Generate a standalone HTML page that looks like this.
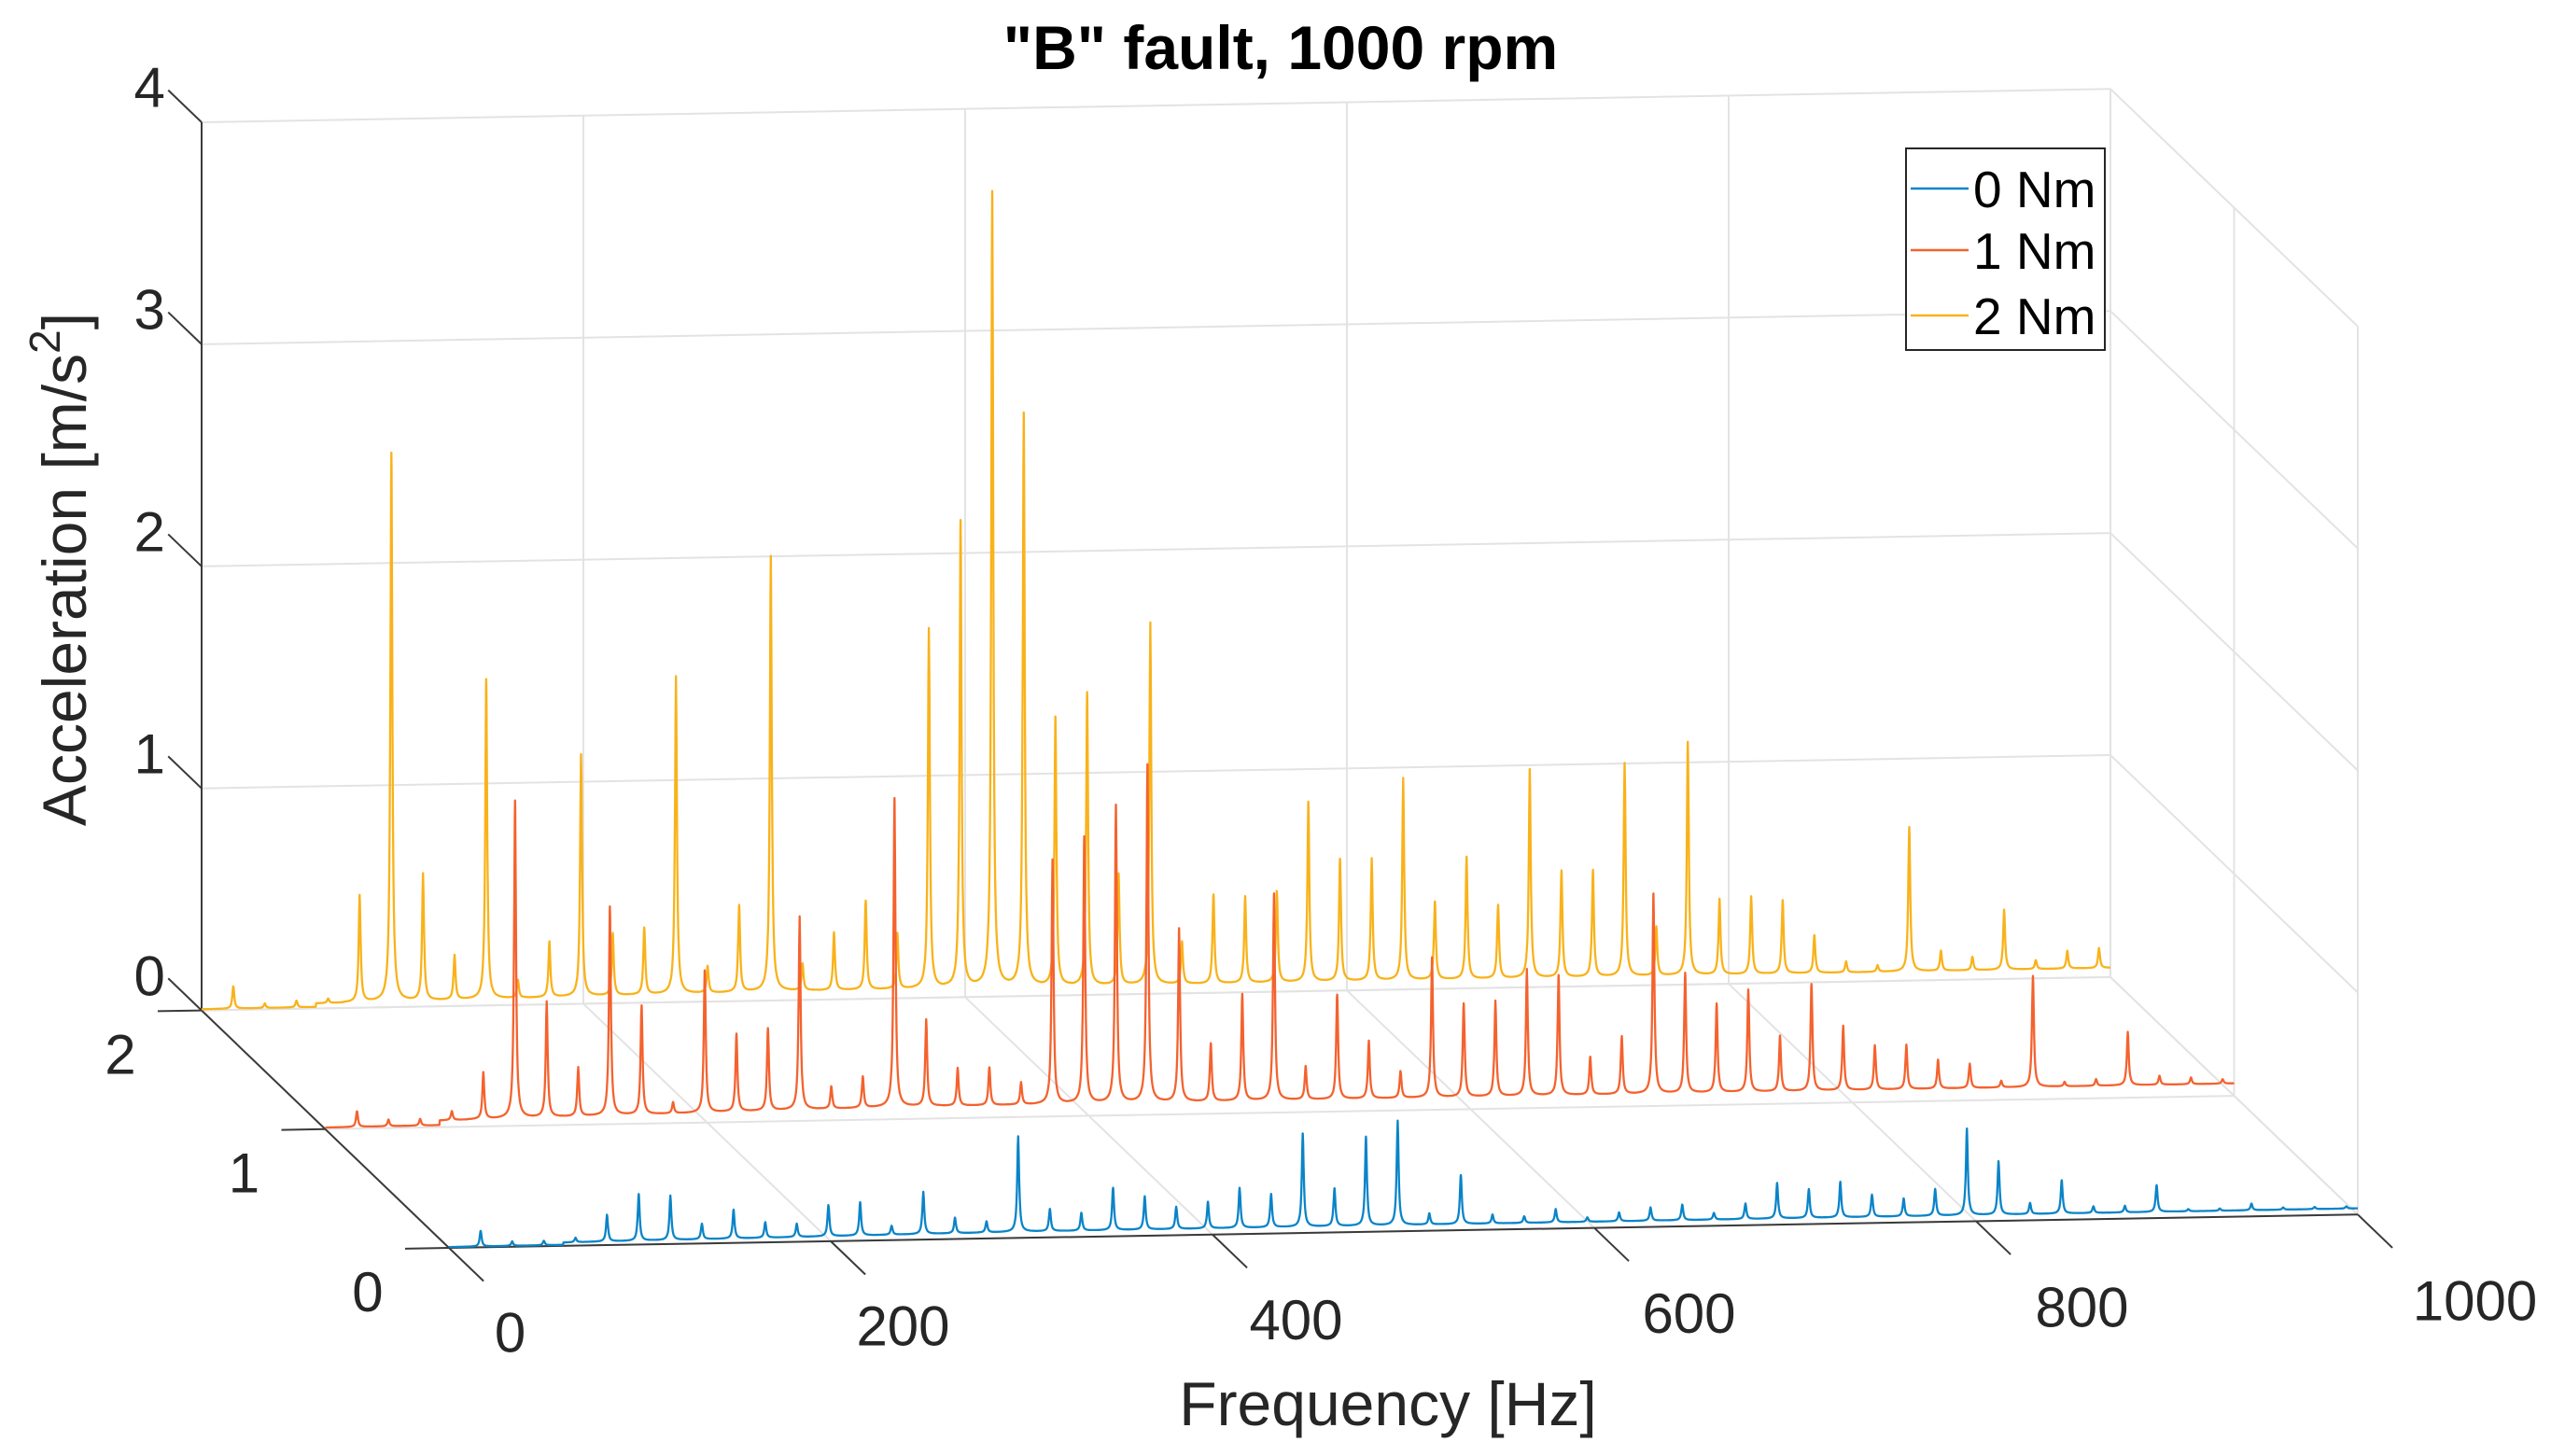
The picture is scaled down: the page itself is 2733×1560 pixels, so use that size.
<!DOCTYPE html>
<html><head><meta charset="utf-8"><style>
html,body{margin:0;padding:0;background:#fff;}
svg{display:block;font-family:"Liberation Sans",Arial,sans-serif;}
</style></head><body>
<svg id="chart" width="2733" height="1560" viewBox="0 0 2733 1560" xmlns="http://www.w3.org/2000/svg">
<rect x="0" y="0" width="2733" height="1560" fill="#fff"/>
<g id="grid"></g>
<g id="axes"></g>
<g id="series"></g>
<g id="labels"></g>
<text x="1372" y="74" text-anchor="middle" font-size="66" font-weight="bold" fill="#000">"B" fault, 1000 rpm</text>
<text x="1487" y="1527" text-anchor="middle" font-size="66" fill="#262626">Frequency [Hz]</text>
<text transform="translate(92,610) rotate(-90)" text-anchor="middle" font-size="66" fill="#262626">Acceleration [m/s<tspan font-size="46" dy="-28">2</tspan><tspan dy="28">]</tspan></text>
<g>
<rect x="2042" y="159" width="213" height="216" fill="#fff" stroke="#262626" stroke-width="2"/>
<g><line x1="2047" y1="202" x2="2109" y2="202" stroke="#0A84C8" stroke-width="2.5"/><text x="2114" y="222" font-size="55" fill="#000">0 Nm</text></g>
<g><line x1="2047" y1="268" x2="2109" y2="268" stroke="#F4622E" stroke-width="2.5"/><text x="2114" y="288" font-size="55" fill="#000">1 Nm</text></g>
<g><line x1="2047" y1="338" x2="2109" y2="338" stroke="#F9B21A" stroke-width="2.5"/><text x="2114" y="358" font-size="55" fill="#000">2 Nm</text></g>
</g>
</svg>
<script>
const harmonicFreqs = [16.6,33.1,49.7,66.3,82.8,99.4,116.0,132.5,149.1,165.7,182.2,198.8,215.4,231.9,248.5,265.1,281.6,298.2,314.8,331.3,347.9,364.5,381.0,397.6,414.2,430.7,447.3,463.9,480.4,497.0,513.6,530.1,546.7,563.3,579.8,596.4,613.0,629.5,646.1,662.7,679.2,695.8,712.4,728.9,745.5,762.1,778.6,795.2,811.8,828.3,844.9,861.5,878.0,894.6,911.2,927.7,944.3,960.9,977.4,994.0];
const amp0Nm = [0.07,0.02,0.02,0.02,0.12,0.21,0.20,0.07,0.13,0.07,0.06,0.14,0.15,0.04,0.19,0.07,0.05,0.43,0.10,0.08,0.19,0.15,0.10,0.12,0.18,0.15,0.42,0.17,0.40,0.47,0.05,0.22,0.04,0.03,0.06,0.02,0.04,0.06,0.07,0.03,0.07,0.16,0.13,0.16,0.10,0.08,0.12,0.39,0.24,0.05,0.15,0.03,0.03,0.12,0.01,0.01,0.03,0.01,0.01,0.01];
const amp1Nm = [0.07,0.03,0.03,0.04,0.21,1.43,0.52,0.22,0.94,0.49,0.05,0.64,0.35,0.37,0.87,0.10,0.14,1.39,0.39,0.17,0.17,0.10,1.10,1.20,1.34,1.52,0.78,0.26,0.48,0.93,0.15,0.47,0.26,0.12,0.63,0.42,0.43,0.57,0.54,0.17,0.26,0.90,0.54,0.40,0.46,0.25,0.48,0.29,0.20,0.20,0.13,0.11,0.03,0.50,0.02,0.03,0.24,0.04,0.03,0.02];
const amp2Nm = [0.10,0.02,0.03,0.02,0.48,2.47,0.57,0.20,1.44,0.08,0.25,1.09,0.28,0.30,1.43,0.12,0.39,1.96,0.12,0.26,0.40,0.25,1.62,2.10,3.58,2.58,1.21,1.32,0.50,1.63,0.19,0.40,0.39,0.41,0.81,0.55,0.55,0.91,0.35,0.55,0.33,0.94,0.48,0.48,0.96,0.22,1.05,0.34,0.35,0.33,0.17,0.05,0.03,0.65,0.09,0.06,0.27,0.04,0.08,0.09];
const noiseFloor = [0.02, 0.04, 0.03];
const seriesNames = ["0 Nm","1 Nm","2 Nm"];
const rowValues = [0, 1, 2];
const fTicks = [0,200,400,600,800,1000];
const zTicks = [0,1,2,3,4];
const rowTicks = [0,1,2];

const NS = "http://www.w3.org/2000/svg";
const O = [481,1337], FV = [2.045,-0.0357], RV = [-132.5,-127.2], ZV = -237.9;
function P(f,r,z){return [O[0]+f*FV[0]+r*RV[0], O[1]+f*FV[1]+r*RV[1]+z*ZV];}
function mk(parent,tag,attrs){const e=document.createElementNS(NS,tag);for(const k in attrs)e.setAttribute(k,attrs[k]);parent.appendChild(e);return e;}
function ln(parent,a,b,color,w,name){
  const e=mk(parent,"line",{x1:a[0],y1:a[1],x2:b[0],y2:b[1],stroke:color,"stroke-width":w});
  
  
  return e;
}
const grid=document.getElementById("grid"), axes=document.getElementById("axes"), labels=document.getElementById("labels"), series=document.getElementById("series");
const GC="#e3e3e3", AC="#3a3a3a";
fTicks.forEach(f=>ln(grid,P(f,2,0),P(f,2,4),GC,2,"back-grid-f"));
zTicks.forEach(z=>ln(grid,P(0,2,z),P(1000,2,z),GC,2,"back-grid-z"));
zTicks.forEach(z=>ln(grid,P(1000,2,z),P(1000,0,z),GC,2,"side-grid-z"));
rowTicks.forEach(r=>ln(grid,P(1000,r,0),P(1000,r,4),GC,2,"side-grid-row"));
fTicks.forEach(f=>ln(grid,P(f,2,0),P(f,0,0),GC,2,"floor-grid-f"));
rowTicks.forEach(r=>ln(grid,P(0,r,0),P(1000,r,0),GC,2,"floor-grid-row"));
ln(axes,P(0,2,0),P(0,2,4),AC,2,"z-axis-line");
ln(axes,P(0,2,0),P(0,0,0),AC,2,"row-axis-line");
ln(axes,P(0,0,0),P(1000,0,0),AC,2,"x-axis-line");
zTicks.forEach(z=>ln(axes,P(0,2,z),P(0,2.27,z),AC,2,"z-tick"));
rowTicks.forEach(r=>ln(axes,P(0,r,0),P(-23,r,0),AC,2,"row-tick"));
fTicks.forEach(f=>ln(axes,P(f,0,0),P(f,-0.28,0),AC,2,"x-tick"));
function txt(x,y,s,name,anchor){
  const t=mk(labels,"text",{x:x,y:y,"font-size":60,fill:"#262626","text-anchor":anchor||"middle"});
  t.textContent=s;
  
  
}
fTicks.forEach(f=>{const p=P(f,-0.6,0);txt(p[0]-14+0.06*f,p[1]+13+0.002*f+22,String(f),"x-tick-label");});
zTicks.forEach(z=>{const p=P(0,2.27,z);txt(p[0]-20,p[1]-4+22,String(z),"z-tick-label");});
rowTicks.forEach(r=>{const p=P(-23,r,0);txt(p[0]-40,p[1]+45+22,String(r),"row-tick-label");});
const ampSets=[amp0Nm,amp1Nm,amp2Nm];
const colors=["#0A84C8","#F4622E","#F9B21A"];
const g=0.6;
for(let s=2;s>=0;s--){
  const amps=ampSets[s], row=rowValues[s], floor=noiseFloor[s];
  let fs=[];
  for(let f=0;f<=1000;f+=0.25)fs.push(f);
  harmonicFreqs.forEach(h=>fs.push(h));
  fs.sort((a,b)=>a-b);
  let pts=[];
  for(const f of fs){
    let v=floor*(0.6+0.8*Math.min(1,f/300));
    if(f<60)v*=0.3;
    for(let i=0;i<harmonicFreqs.length;i++){const d=f-harmonicFreqs[i];if(Math.abs(d)<25)v+=amps[i]*g*g/(d*d+g*g);}
    const p=P(f,row,v);pts.push(p[0].toFixed(1)+","+p[1].toFixed(1));
  }
  const pl=mk(series,"polyline",{points:pts.join(" "),fill:"none",stroke:colors[s],"stroke-width":2.3,"stroke-linejoin":"round"});
  
  
}
</script>
</body></html>
